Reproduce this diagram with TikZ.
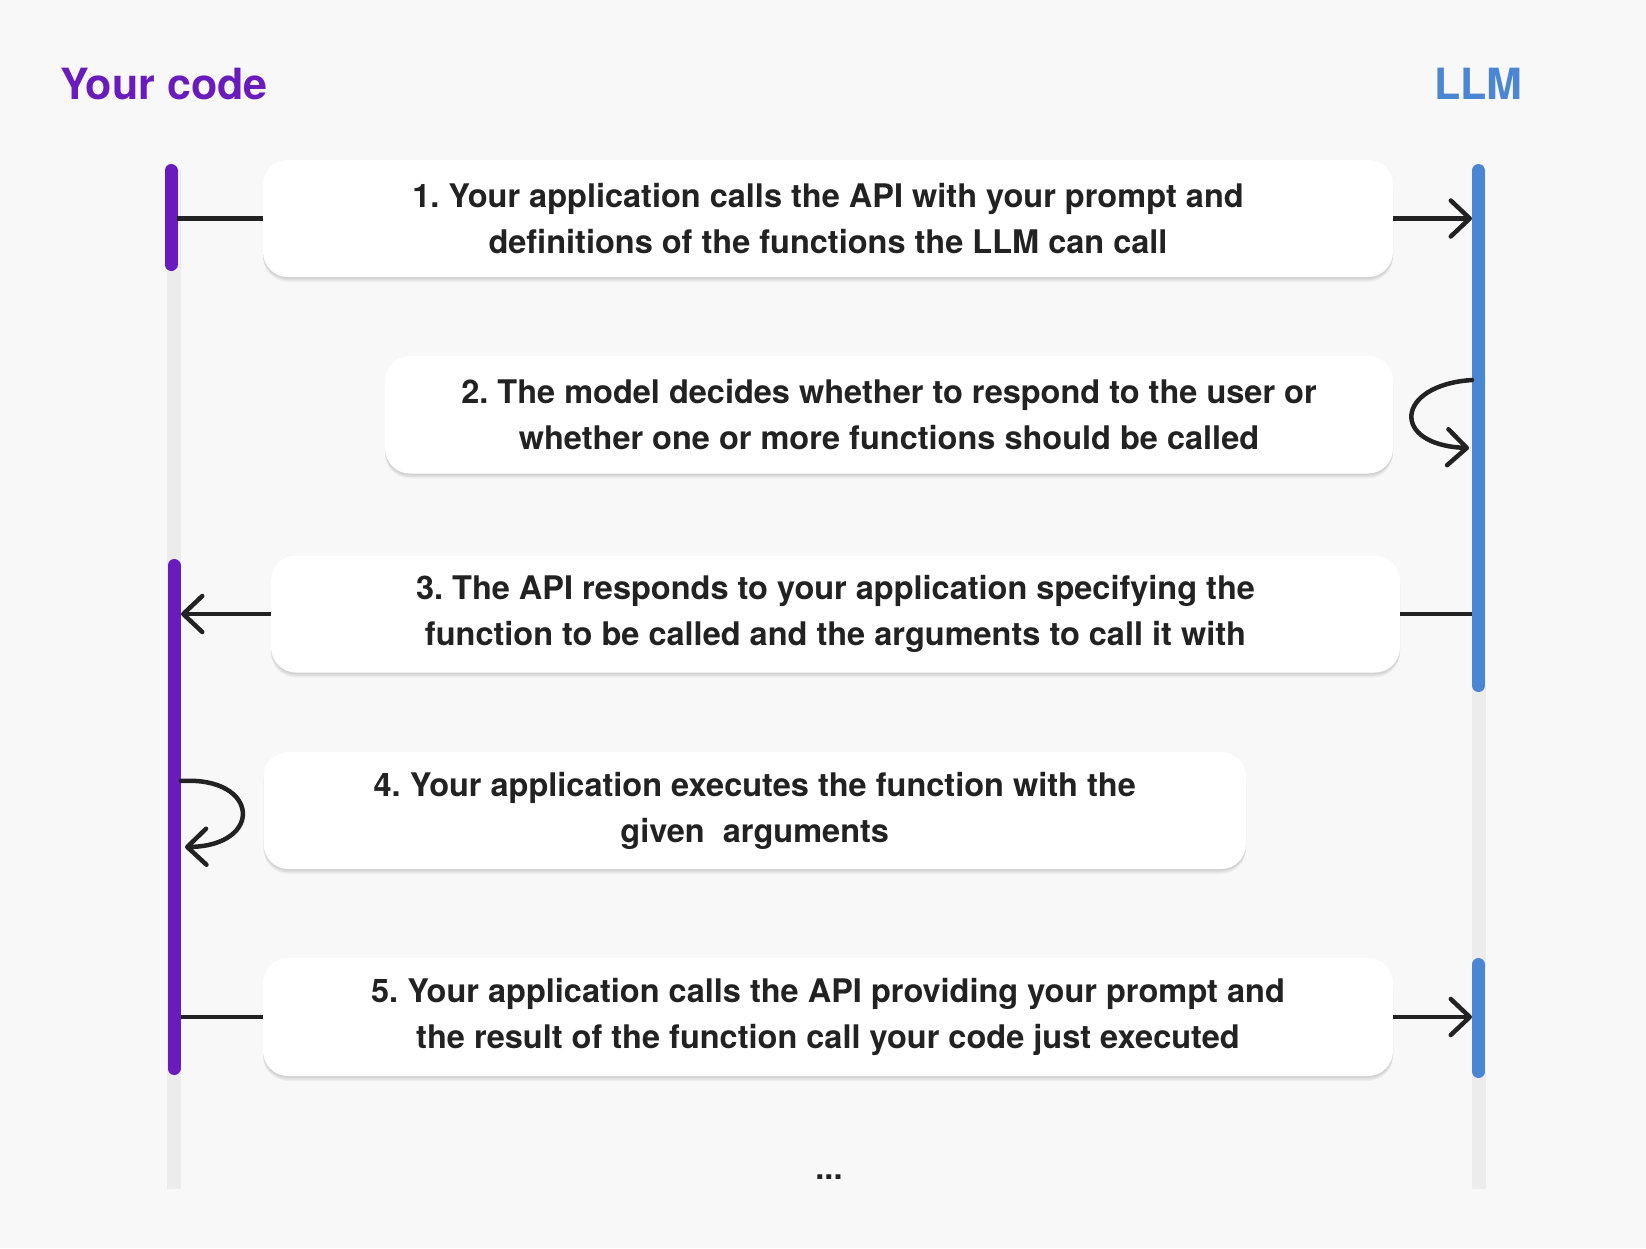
\documentclass[tikz,border=0pt]{standalone}
\usepackage{fontspec}
\setmainfont{TeX Gyre Heros}
\usetikzlibrary{arrows.meta,shadows}
\definecolor{bg}{HTML}{F8F8F8}
\definecolor{lane}{HTML}{ECECEC}
\definecolor{purp}{HTML}{6A1BBE}
\definecolor{llmblue}{HTML}{4A86D4}
\definecolor{txt}{HTML}{222222}
\newcommand{\boxfont}{\fontsize{32.5}{46}\selectfont\bfseries\frenchspacing}
\begin{document}
\begin{tikzpicture}[x=1pt,y=-1pt,
  box/.style={fill=white, rounded corners=25pt, inner sep=0pt, align=center,
    font=\boxfont, text=txt,
    drop shadow={shadow xshift=0pt, shadow yshift=-5pt, opacity=0.04, fill=black},
    drop shadow={shadow xshift=0pt, shadow yshift=-3.5pt, opacity=0.05, fill=black},
    drop shadow={shadow xshift=0pt, shadow yshift=-2pt, opacity=0.06, fill=black}},
  conn/.style={line width=4.5pt, draw=txt},
  tipend/.style={-{Straight Barb[length=19pt,width=36pt,round]}},
  lanebar/.style={line width=14pt, draw=lane},
  actbar/.style={line width=13pt, line cap=round},
  head/.style={font=\fontsize{43}{50}\selectfont\bfseries, inner sep=0pt}
]
\useasboundingbox[fill=bg] (0,0) rectangle (1646,1248);

% headers
\node[head, text=purp, anchor=west] (hyc) at (60,84) {Your code};
\node[head, text=llmblue, anchor=west] (hllm) at (1434,84) {LLM};

% lifelines
\draw[lanebar] (174,170) -- (174,1189);
\draw[lanebar] (1478.5,170) -- (1478.5,1189);
\draw[actbar, purp] (171,170.5) -- (171,264.5);
\draw[actbar, purp] (174,565.5) -- (174,1068.5);
\draw[actbar, llmblue] (1478.5,170.5) -- (1478.5,685.5);
\draw[actbar, llmblue] (1478.5,964.5) -- (1478.5,1071.5);

\coordinate (Lx1) at (177,0);
\coordinate (Lx2) at (181,0);
\coordinate (Rx) at (1472,0);

% boxes
\node[box, minimum width=1130pt, minimum height=117pt] (b1) at (828,218.5)
  {1. Your application calls the API with your prompt and\\definitions of the functions the LLM can call};
\node[box, minimum width=1008pt, minimum height=117.5pt] (b2) at (889,414.75)
  {2. The model decides whether to respond to the user or\\whether one or more functions should be called};
\node[box, minimum width=1129pt, minimum height=117pt] (b3) at (835.5,614)
  {3. The API responds to your application specifying the\\function to be called and the arguments to call it with};
\node[box, minimum width=982.5pt, minimum height=117pt] (b4) at (754.75,810.5)
  {4. Your application executes the function with the\\given\ \ arguments};
\node[box, minimum width=1130pt, minimum height=118pt] (b5) at (828,1017)
  {5. Your application calls the API providing your prompt and\\the result of the function call your code just executed};

\node[font=\boxfont, text=txt, inner sep=0pt] (dots) at (829,1177) {...};

% connectors
\draw[conn] (b1.west -| Lx1) -- (b1.west);
\draw[conn, tipend] (b1.east) -- (b1.east -| Rx);

\coordinate (s2a) at (1472,380);
\coordinate (s2b) at (1469,448);
\draw[conn, line cap=round, tipend] (s2a) .. controls +(-77,5) and +(-79,-3) .. (s2b);

\draw[conn] (b3.east -| Rx) -- (b3.east);
\draw[conn, tipend] (b3.west) -- (b3.west -| Lx2);

\coordinate (s4a) at (181,781);
\coordinate (s4b) at (185,847);
\draw[conn, line cap=round, tipend] (s4a) .. controls +(79,-5) and +(79,-1) .. (s4b);

\draw[conn] (b5.west -| Lx2) -- (b5.west);
\draw[conn, tipend] (b5.east) -- (b5.east -| Rx);
\end{tikzpicture}
\end{document}
